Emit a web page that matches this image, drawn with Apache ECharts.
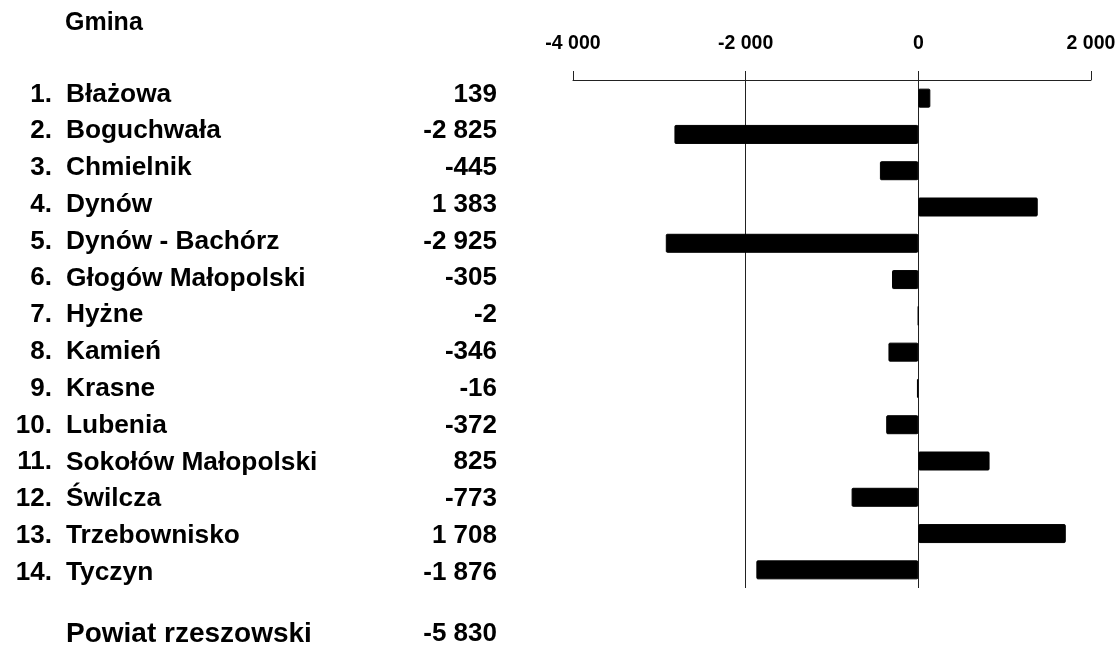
<!DOCTYPE html>
<html>
<head>
<meta charset="utf-8">
<script src="https://cdn.jsdelivr.net/npm/echarts@6/dist/echarts.min.js"></script>
<style>
html,body{margin:0;padding:0;background:#fff;}
#chart{width:1120px;height:659px;}
</style>
</head>
<body>
<div id="chart"></div>
<script>
// ---- data ----
const headerLabel = 'Gmina';
const rowNumbers = ['1.','2.','3.','4.','5.','6.','7.','8.','9.','10.','11.','12.','13.','14.'];
const categories = ['Błażowa','Boguchwała','Chmielnik','Dynów','Dynów - Bachórz','Głogów Małopolski','Hyżne','Kamień','Krasne','Lubenia','Sokołów Małopolski','Świlcza','Trzebownisko','Tyczyn'];
const values = [139,-2825,-445,1383,-2925,-305,-2,-346,-16,-372,825,-773,1708,-1876];
const totalLabel = 'Powiat rzeszowski';
const totalValue = -5830;
const axisMin = -4000, axisMax = 2000, axisInterval = 2000;

function fmt(v){
  const s = Math.abs(Math.round(v)).toString().replace(/\B(?=(\d{3})+(?!\d))/g,' ');
  return (v < 0 ? '-' : '') + s;
}

const FONT = "'Liberation Sans', Arial, sans-serif";
const txt = fs => ({fontFamily: FONT, fontWeight: 'bold', fontSize: fs, color: '#000'});

const chart = echarts.init(document.getElementById('chart'), null, {renderer:'canvas'});
const tableTop = 76, tableHeight = 515;

chart.setOption({
  backgroundColor: '#fff',
  animation: false,
  grid: [
    {left: 573, right: 29, top: 80, height: 508},
    {left: 500, width: 10, top: tableTop, height: tableHeight}
  ],
  xAxis: [
    {
      type: 'value', gridIndex: 0, position: 'top',
      min: axisMin, max: axisMax, interval: axisInterval,
      axisLine: {show: true, lineStyle: {color: '#222', width: 1}},
      axisTick: {show: true, length: 9, lineStyle: {color: '#222', width: 1}},
      axisLabel: Object.assign({margin: 26, formatter: v => fmt(v)}, txt(19.5)),
      splitLine: {show: true, showMinLine: false, showMaxLine: false, lineStyle: {color: '#222', width: 1}}
    },
    {type: 'value', gridIndex: 1, show: false}
  ],
  yAxis: [
    {
      type: 'category', gridIndex: 0, inverse: true, data: categories,
      axisLine: {show: false}, axisTick: {show: false}, axisLabel: {show: false}, splitLine: {show: false}
    },
    {
      type: 'category', gridIndex: 1, inverse: true, data: rowNumbers, position: 'left',
      offset: 448, axisLine: {show: false}, axisTick: {show: false},
      axisLabel: Object.assign({margin: 0, align: 'right'}, txt(26))
    },
    {
      type: 'category', gridIndex: 1, inverse: true, data: categories, position: 'left',
      offset: 434, axisLine: {show: false}, axisTick: {show: false},
      axisLabel: Object.assign({margin: 0, align: 'left'}, txt(26.3))
    },
    {
      type: 'category', gridIndex: 1, inverse: true, data: values.map(fmt), position: 'left',
      offset: 0, axisLine: {show: false}, axisTick: {show: false},
      axisLabel: Object.assign({margin: 3, align: 'right'}, txt(26))
    }
  ],
  graphic: [
    {type: 'text', left: 65, top: 11, style: {text: headerLabel, fill: '#000', font: 'bold 25px ' + FONT}},
    {type: 'text', left: 66, top: 620, style: {text: totalLabel, fill: '#000', font: 'bold 28px ' + FONT}},
    {type: 'text', right: 1120 - 497, top: 621, style: {text: fmt(totalValue), fill: '#000', font: 'bold 26px ' + FONT}}
  ],
  series: [
    {
      type: 'bar', xAxisIndex: 0, yAxisIndex: 0, data: values,
      barWidth: 19,
      itemStyle: {color: '#000', borderColor: '#000', borderWidth: 1, borderRadius: 1},
      silent: true
    }
  ]
});
</script>
</body>
</html>
